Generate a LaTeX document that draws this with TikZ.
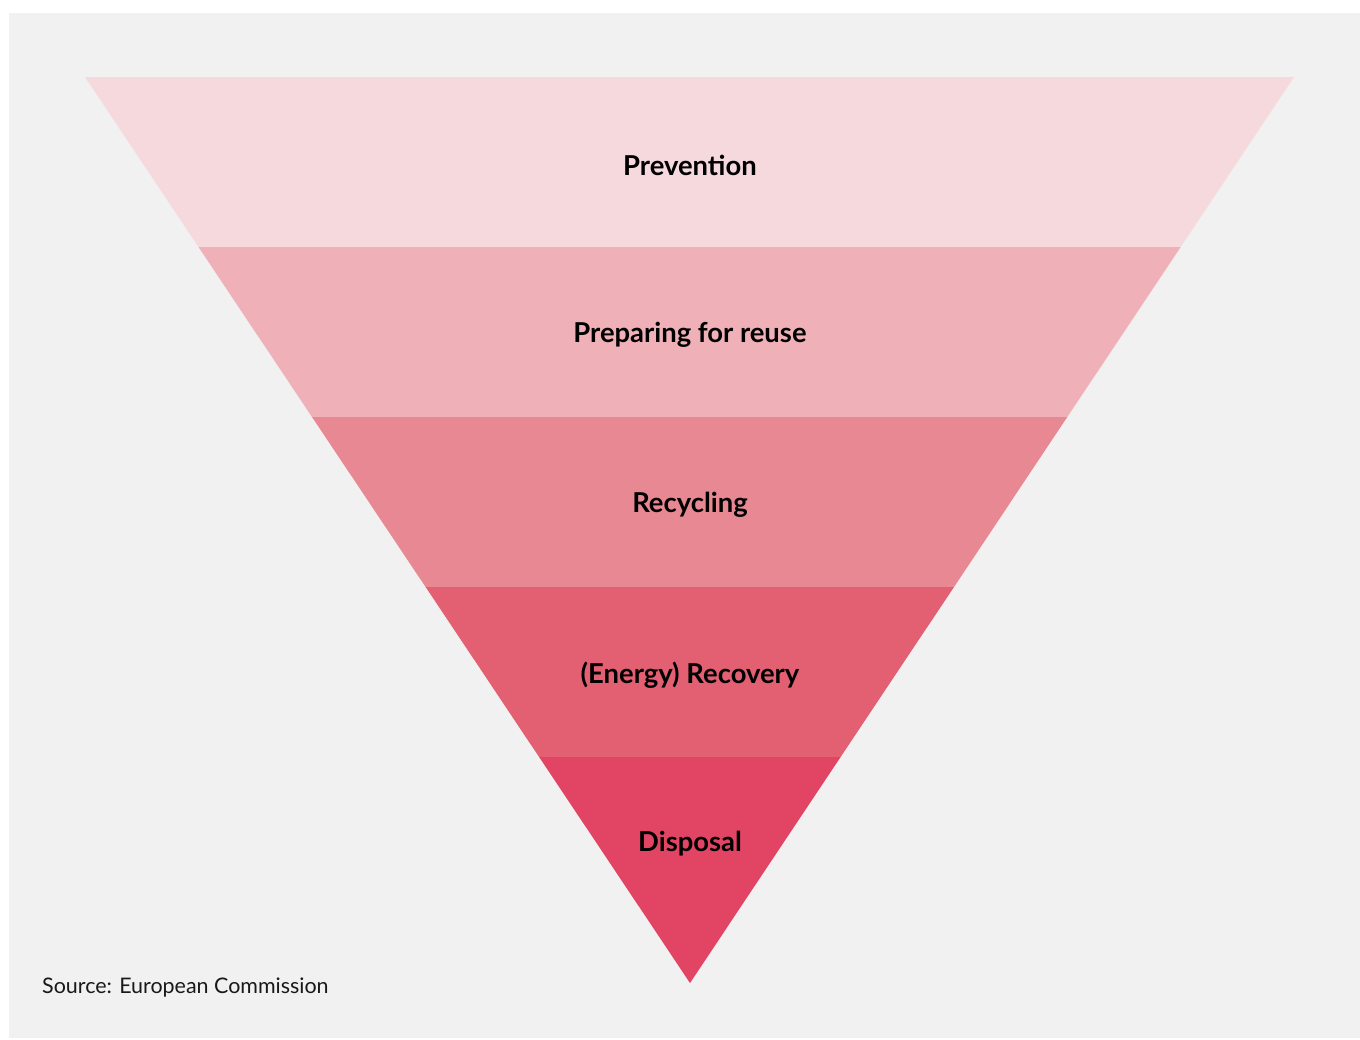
\documentclass[tikz,border=0pt]{standalone}
\usepackage{fontspec}
\setmainfont{Lato}
\definecolor{panel}{HTML}{F1F1F1}
\definecolor{levelA}{HTML}{F5D9DD}
\definecolor{levelB}{HTML}{EFB1B7}
\definecolor{levelC}{HTML}{E88892}
\definecolor{levelD}{HTML}{E35F72}
\definecolor{levelE}{HTML}{E24464}
\tikzset{
  level/.style={font=\bfseries\fontsize{15.6}{18}\selectfont, text=black},
}
\begin{document}
\begin{tikzpicture}[x=0.02cm,y=-0.02cm]
    \useasboundingbox (0,0) rectangle (1360,1039);
    % Panel
    \fill[panel] (9,13) rectangle (1360,1038);
    % Bands of the inverted triangle
    \fill[levelA] (85,77) -- (1294,77) -- (1180.7,247) -- (198.5,247) -- cycle;
    \fill[levelB] (198.5,247) -- (1180.7,247) -- (1067.3,417) -- (312,417) -- cycle;
    \fill[levelC] (312,417) -- (1067.3,417) -- (954,587) -- (425.6,587) -- cycle;
    \fill[levelD] (425.6,587) -- (954,587) -- (840.6,757) -- (539.1,757) -- cycle;
    \fill[levelE] (539.1,757) -- (840.6,757) -- (690,983) -- cycle;
    % Labels
    \node[level] (prevention) at (690,165) {Prevention};
    \node[level] (reuse) at (690,335) {Preparing for reuse};
    \node[level] (recycling) at (690,505) {Recycling};
    \node[level] (recovery) at (690,675) {(Energy) Recovery};
    \node[level] (disposal) at (690,844) {Disposal};
    % Source note
    \node[anchor=west, font=\fontsize{12.2}{14}\selectfont, text=black!90] (source) at (36,988) {Source: European Commission};
\end{tikzpicture}
\end{document}
